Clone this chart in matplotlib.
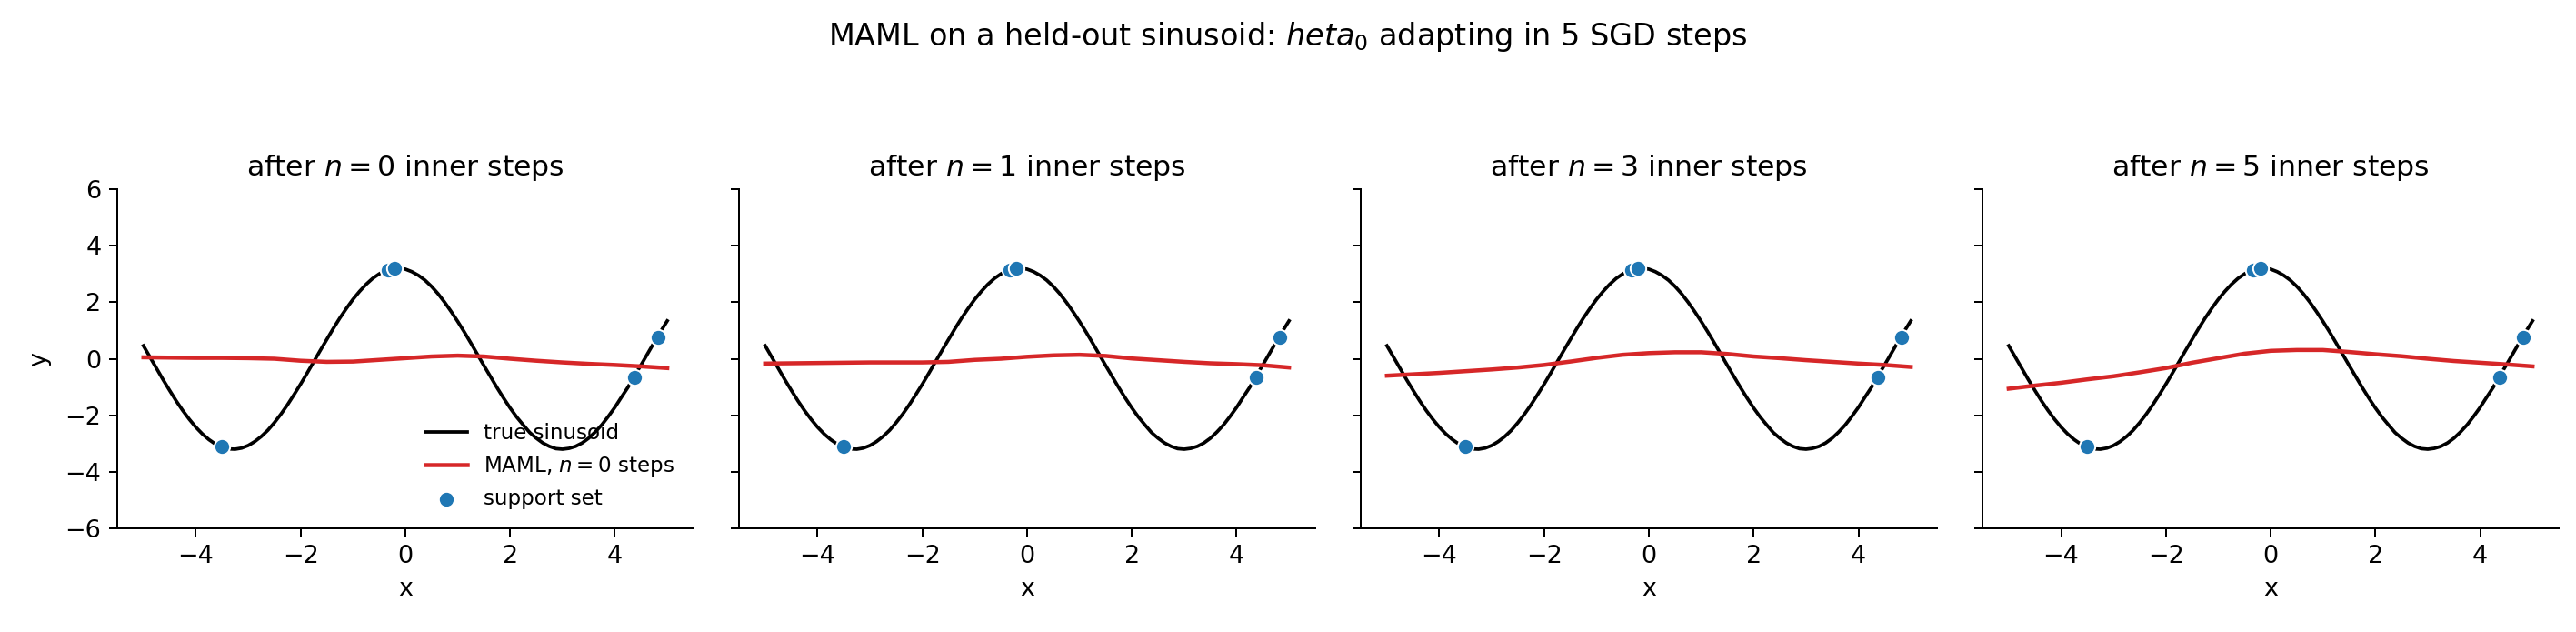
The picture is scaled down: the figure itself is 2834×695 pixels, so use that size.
import matplotlib
matplotlib.use("Agg")
import matplotlib.pyplot as plt

# true sinusoid, every 0.125 in x
x_true = [-5.0, -4.875, -4.75, -4.625, -4.5, -4.375, -4.25, -4.125, -4.0, -3.875,
          -3.75, -3.625, -3.5, -3.375, -3.25, -3.125, -3.0, -2.875, -2.75, -2.625,
          -2.5, -2.375, -2.25, -2.125, -2.0, -1.875, -1.75, -1.625, -1.5, -1.375,
          -1.25, -1.125, -1.0, -0.875, -0.75, -0.625, -0.5, -0.375, -0.25, -0.125,
          0.0, 0.125, 0.25, 0.375, 0.5, 0.625, 0.75, 0.875, 1.0, 1.125,
          1.25, 1.375, 1.5, 1.625, 1.75, 1.875, 2.0, 2.125, 2.25, 2.375,
          2.5, 2.625, 2.75, 2.875, 3.0, 3.125, 3.25, 3.375, 3.5, 3.625,
          3.75, 3.875, 4.0, 4.125, 4.25, 4.375, 4.5, 4.625, 4.75, 4.875, 5.0]
y_true = [0.46, 0.06, -0.34, -0.74, -1.12, -1.49, -1.83, -2.14, -2.42, -2.66,
          -2.86, -3.02, -3.13, -3.19, -3.20, -3.16, -3.07, -2.93, -2.75, -2.53,
          -2.26, -1.96, -1.63, -1.27, -0.90, -0.51, -0.11, 0.29, 0.68, 1.07,
          1.44, 1.78, 2.10, 2.38, 2.63, 2.84, 3.00, 3.12, 3.18, 3.20,
          3.17, 3.08, 2.95, 2.78, 2.56, 2.30, 2.00, 1.67, 1.32, 0.95,
          0.56, 0.16, -0.24, -0.63, -1.02, -1.39, -1.74, -2.06, -2.34, -2.61,
          -2.81, -2.98, -3.10, -3.18, -3.20, -3.17, -3.10, -2.98, -2.81, -2.59,
          -2.34, -2.04, -1.72, -1.36, -1.01, -0.60, -0.22, 0.18, 0.58, 0.97, 1.34]

# support set (K=5)
x_support = [-3.51, -0.33, -0.20, 4.37, 4.82]
y_support = [-3.12, 3.15, 3.19, -0.65, 0.76]

# MAML predictions after n inner steps
steps = [0, 1, 3, 5]
x_pred = [-5.0, -4.5, -4.0, -3.5, -3.0, -2.5, -2.0, -1.5, -1.0, -0.5, 0.0,
          0.5, 1.0, 1.5, 2.0, 2.5, 3.0, 3.5, 4.0, 4.5, 5.0]
pred_0 = [0.05, 0.04, 0.03, 0.03, 0.02, 0.00, -0.07, -0.11, -0.10, -0.04, 0.02,
          0.08, 0.11, 0.08, 0.00, -0.07, -0.13, -0.18, -0.22, -0.27, -0.33]
pred_1 = [-0.17, -0.16, -0.15, -0.14, -0.13, -0.13, -0.13, -0.11, -0.04, 0.00, 0.07,
          0.12, 0.14, 0.10, 0.01, -0.05, -0.11, -0.16, -0.19, -0.23, -0.31]
pred_3 = [-0.60, -0.55, -0.50, -0.44, -0.38, -0.31, -0.22, -0.10, 0.03, 0.14, 0.20,
          0.23, 0.23, 0.17, 0.08, 0.02, -0.05, -0.11, -0.17, -0.22, -0.29]
pred_5 = [-1.06, -0.95, -0.85, -0.73, -0.62, -0.48, -0.33, -0.14, 0.02, 0.18, 0.28,
          0.31, 0.31, 0.24, 0.16, 0.09, 0.00, -0.08, -0.14, -0.20, -0.27]
preds = [pred_0, pred_1, pred_3, pred_5]

plt.rcParams["xtick.labelsize"] = 10.8
plt.rcParams["ytick.labelsize"] = 10.8
plt.rcParams["axes.labelsize"] = 10.8
plt.rcParams["axes.titlesize"] = 12.6

fig, axes = plt.subplots(1, 4, figsize=(2834 / 180, 695 / 180), sharey=True)
fig.subplots_adjust(left=0.0455, right=0.9933, bottom=0.164, top=0.7007, wspace=0.079)

for ax, n, pred in zip(axes, steps, preds):
    ax.plot(x_true, y_true, color="black", lw=1.5, label="true sinusoid")
    ax.plot(x_pred, pred, color="tab:red", lw=1.8, label=f"MAML, $n={n}$ steps")
    ax.scatter(x_support, y_support, s=48, color="tab:blue",
               edgecolor="white", linewidth=0.8, zorder=3, label="support set")
    ax.set_title(f"after $n={n}$ inner steps")
    ax.set_xlabel("x")
    ax.set_ylim(-6, 6)
    ax.set_xticks([-4, -2, 0, 2, 4])
    ax.spines["top"].set_visible(False)
    ax.spines["right"].set_visible(False)

axes[0].set_ylabel("y", labelpad=6)
axes[0].legend(loc="lower right", frameon=False, fontsize=9.2)

fig.suptitle("MAML on a held-out sinusoid: $heta_0$ adapting in 5 SGD steps",
             y=0.968, fontsize=13.4)

fig.savefig("out.png", dpi=180)
